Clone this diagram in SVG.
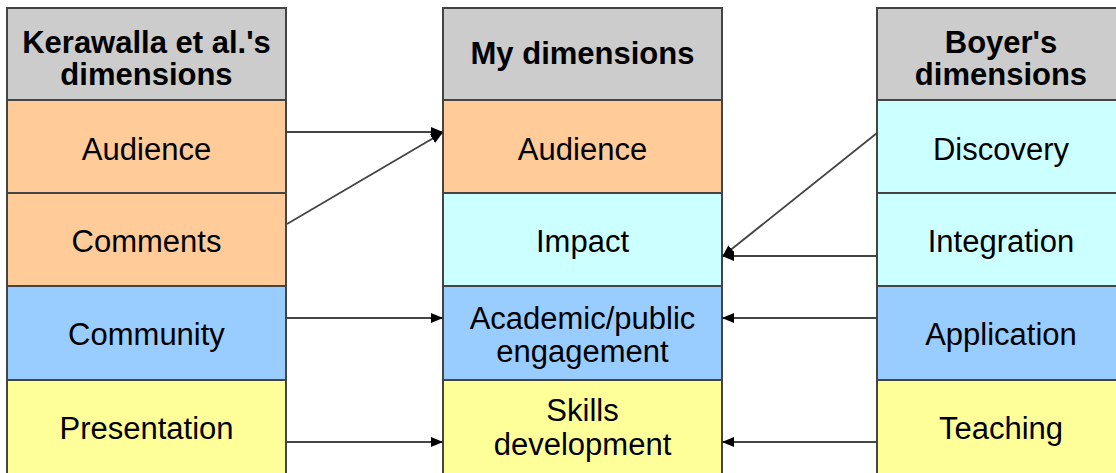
<svg xmlns="http://www.w3.org/2000/svg" width="1116" height="473" viewBox="0 0 1116 473">
<style>
rect{stroke:#444;stroke-width:2}
.h{fill:#cccccc}.o{fill:#ffcc99}.c{fill:#ccffff}.b{fill:#99ccff}.y{fill:#ffff99}
text{font-family:"Liberation Sans",Arial,sans-serif;font-size:31px;fill:#000;text-anchor:middle}
.t{font-weight:bold}
#connectors line{stroke:#444;stroke-width:1.8;marker-end:url(#ah)}
</style>
<defs>
<marker id="ah" markerWidth="12" markerHeight="10" refX="11" refY="5" orient="auto" markerUnits="userSpaceOnUse">
<path d="M0,0 L12,5 L0,10 Z" fill="#000"/>
</marker>
</defs>
<rect x="0" y="0" width="1116" height="473" fill="#fff" style="stroke:none"/>
<g id="left">
<g id="kh"><rect class="h" x="7" y="8" width="279" height="92"/><text class="t" x="146.5" y="53">Kerawalla et al.'s</text><text class="t" x="146.5" y="85">dimensions</text></g>
<g id="k1"><rect class="o" x="7" y="100" width="279" height="93"/><text x="146.5" y="160">Audience</text></g>
<g id="k2"><rect class="o" x="7" y="193" width="279" height="93"/><text x="146.5" y="252">Comments</text></g>
<g id="k3"><rect class="b" x="7" y="286" width="279" height="94"/><text x="146.5" y="345">Community</text></g>
<g id="k4"><rect class="y" x="7" y="380" width="279" height="100"/><text x="146.5" y="439">Presentation</text></g>
</g>
<g id="middle">
<g id="mh"><rect class="h" x="443" y="8" width="279" height="92"/><text class="t" x="582.5" y="64">My dimensions</text></g>
<g id="m1"><rect class="o" x="443" y="100" width="279" height="93"/><text x="582.5" y="160">Audience</text></g>
<g id="m2"><rect class="c" x="443" y="193" width="279" height="93"/><text x="582.5" y="252">Impact</text></g>
<g id="m3"><rect class="b" x="443" y="286" width="279" height="94"/><text x="582.5" y="329">Academic/public</text><text x="582.5" y="362">engagement</text></g>
<g id="m4"><rect class="y" x="443" y="380" width="279" height="100"/><text x="582.5" y="421">Skills</text><text x="582.5" y="455">development</text></g>
</g>
<g id="right">
<g id="bh"><rect class="h" x="877" y="8" width="260" height="92"/><text class="t" x="1001" y="53">Boyer's</text><text class="t" x="1001" y="85">dimensions</text></g>
<g id="b1"><rect class="c" x="877" y="100" width="260" height="93"/><text x="1001" y="160">Discovery</text></g>
<g id="b2"><rect class="c" x="877" y="193" width="260" height="93"/><text x="1001" y="252">Integration</text></g>
<g id="b3"><rect class="b" x="877" y="286" width="260" height="94"/><text x="1001" y="345">Application</text></g>
<g id="b4"><rect class="y" x="877" y="380" width="260" height="100"/><text x="1001" y="439">Teaching</text></g>
</g>
<g id="connectors">
<line x1="287" y1="132" x2="442" y2="132"/>
<line x1="287" y1="224" x2="442" y2="133"/>
<line x1="287" y1="318" x2="442" y2="318"/>
<line x1="287" y1="442" x2="442" y2="442"/>
<line x1="877" y1="133" x2="723" y2="256"/>
<line x1="877" y1="256" x2="723" y2="256"/>
<line x1="877" y1="318" x2="723" y2="318"/>
<line x1="877" y1="442" x2="723" y2="442"/>
</g>
</svg>
